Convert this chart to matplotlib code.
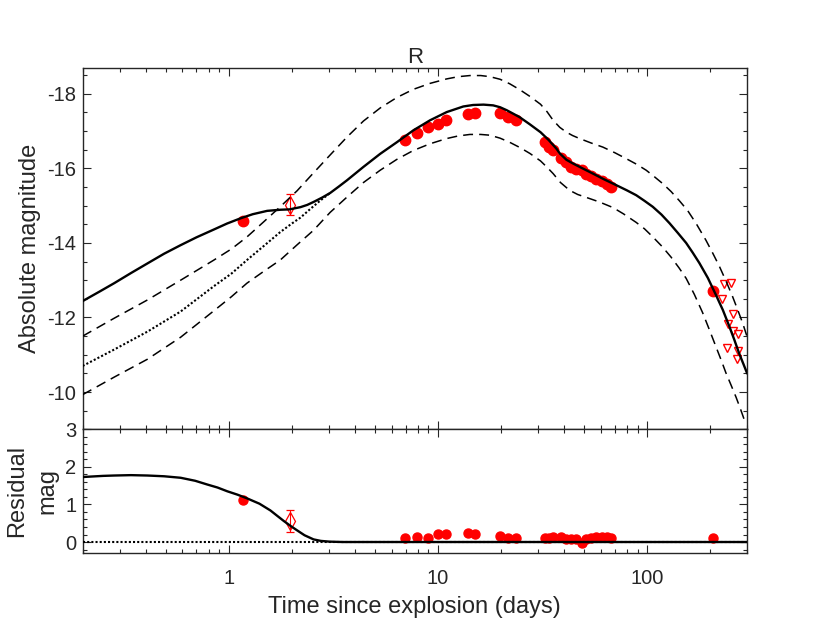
import numpy as np
import matplotlib
matplotlib.use("Agg")
import matplotlib.pyplot as plt
from matplotlib.ticker import MultipleLocator, LogLocator, NullFormatter

# -------- data --------

# detections, R band
t_det = [1.17, 6.96, 7.97, 8.99, 9.97, 10.9, 13.95, 15.0, 19.8, 21.6, 23.7,
         32.4, 33.8, 35.5, 38.7, 40.7, 43.0, 45.5, 48.9, 51.2, 54.1, 57.2,
         60.6, 64.1, 67.1, 207.0]
mag_det = [-14.58, -16.77, -16.95, -17.12, -17.18, -17.29, -17.46, -17.48,
           -17.48, -17.39, -17.29, -16.70, -16.58, -16.48, -16.28, -16.17,
           -16.05, -15.99, -15.95, -15.86, -15.79, -15.72, -15.66, -15.59,
           -15.50, -12.71]
res_det = [1.11, 0.11, 0.14, 0.11, 0.22, 0.22, 0.23, 0.22, 0.15, 0.11, 0.11,
           0.11, 0.11, 0.13, 0.13, 0.09, 0.08, 0.07, -0.02, 0.07, 0.11, 0.13,
           0.14, 0.13, 0.11, 0.11]

# the single open-diamond point with error bar
t_dia = [1.97]
mag_dia = [-15.03]
res_dia = [0.55]
err_dia = [0.29]

# upper limits (open triangles)
t_lim = [233.6, 251.5, 226.8, 256.0, 242.3, 256.0, 270.4, 239.7, 270.4, 267.5]
mag_lim = [-12.89, -12.93, -12.50, -12.09, -11.83, -11.65, -11.55, -11.18,
           -11.09, -10.88]

# full model (solid)
t_model = [0.2, 0.24, 0.283, 0.34, 0.408, 0.49, 0.588, 0.70, 0.848, 0.98,
           1.137, 1.3, 1.524, 1.764, 1.95, 2.2, 2.37, 2.543, 2.8, 3.05, 3.35,
           3.67, 4.4, 5.29, 6.35, 7.62, 9.16, 11.0, 13.2, 14.7, 16.5, 18.35,
           19.8, 21.3, 23.0, 24.6, 27.5, 30.9, 33.8, 36.8, 38.2, 41.1, 44.2,
           47.5, 55.0, 62.0, 71.1, 80.0, 88.6, 97.0, 106.3, 117.0, 127.8,
           140.0, 153.5, 165.0, 177.6, 195.0, 213.3, 230.0, 247.0, 261.0,
           275.0, 288.0, 300.0]
mag_model = [-12.44, -12.69, -12.92, -13.19, -13.45, -13.71, -13.94, -14.15,
             -14.36, -14.52, -14.66, -14.77, -14.86, -14.89, -14.90, -14.96,
             -15.02, -15.10, -15.22, -15.34, -15.51, -15.68, -16.04, -16.39,
             -16.70, -17.02, -17.29, -17.51, -17.66, -17.70, -17.71, -17.69,
             -17.64, -17.56, -17.46, -17.37, -17.18, -16.97, -16.76, -16.53,
             -16.40, -16.23, -16.13, -16.04, -15.86, -15.71, -15.55, -15.41,
             -15.28, -15.13, -14.97, -14.76, -14.53, -14.27, -14.00, -13.74,
             -13.46, -13.06, -12.60, -12.20, -11.76, -11.40, -11.04, -10.76,
             -10.51]

# base model without the early excess (dotted)
t_base = [0.2, 0.283, 0.408, 0.588, 0.848, 1.03, 1.22, 1.47, 1.76, 2.0, 2.2,
          2.45, 2.74, 3.05]
mag_base = [-10.70, -11.14, -11.62, -12.16, -12.84, -13.18, -13.54, -13.92,
            -14.29, -14.52, -14.68, -14.91, -15.14, -15.34]

# upper / lower envelopes (dashed)
t_up = [0.2, 0.283, 0.408, 0.588, 0.848, 1.03, 1.22, 1.47, 1.76, 2.12, 2.54,
        3.05, 3.67, 4.4, 5.29, 6.35, 7.62, 9.16, 11.0, 12.5, 14.2, 16.0, 17.7,
        19.8, 22.0, 24.6, 27.5, 30.9, 33.2, 35.5, 38.2, 41.1, 44.0, 47.5,
        54.0, 61.4, 70.0, 79.4, 89.0, 98.9, 108.0, 118.7, 130.0, 142.6,
        156.0, 171.0, 191.0, 206.0, 221.0, 238.0, 256.0, 271.0, 286.0, 300.0]
mag_up = [-11.50, -11.98, -12.47, -13.00, -13.54, -13.84, -14.16, -14.57,
          -14.97, -15.40, -15.88, -16.36, -16.84, -17.27, -17.62, -17.90,
          -18.12, -18.28, -18.40, -18.46, -18.49, -18.49, -18.46, -18.39,
          -18.27, -18.11, -17.93, -17.72, -17.52, -17.29, -17.10, -16.97,
          -16.88, -16.80, -16.68, -16.57, -16.42, -16.26, -16.11, -15.95,
          -15.78, -15.59, -15.38, -15.13, -14.87, -14.53, -14.07, -13.72,
          -13.38, -12.98, -12.56, -12.20, -11.85, -11.49]
t_low = [0.2, 0.283, 0.408, 0.588, 0.848, 1.03, 1.22, 1.47, 1.76, 2.12, 2.54,
         3.05, 3.67, 4.4, 5.29, 6.35, 7.62, 9.16, 11.0, 12.5, 14.2, 16.0,
         17.7, 19.8, 22.0, 24.6, 27.5, 30.9, 33.2, 35.5, 38.5, 42.6, 46.5,
         51.2, 59.0, 68.5, 77.0, 88.6, 97.0, 106.0, 118.0, 130.0, 142.0,
         153.5, 168.0, 184.0, 198.0, 213.0, 226.0, 238.0, 252.0, 266.0,
         279.0, 291.0]
mag_low = [-9.93, -10.40, -10.88, -11.47, -12.18, -12.56, -12.92, -13.24,
           -13.54, -13.95, -14.34, -14.82, -15.23, -15.62, -15.95, -16.24,
           -16.48, -16.66, -16.80, -16.87, -16.91, -16.91, -16.89, -16.81,
           -16.70, -16.56, -16.40, -16.20, -16.03, -15.86, -15.62, -15.41,
           -15.30, -15.22, -15.10, -14.95, -14.78, -14.55, -14.38, -14.17,
           -13.90, -13.62, -13.33, -13.05, -12.62, -12.13, -11.68, -11.22,
           -10.85, -10.51, -10.18, -9.86, -9.55, -9.26]

# residual of the full model w.r.t. the base model
t_res = [0.2, 0.25, 0.283, 0.34, 0.408, 0.49, 0.588, 0.69, 0.789, 0.883,
         0.983, 1.1, 1.224, 1.4, 1.58, 1.7, 1.83, 1.97, 2.12, 2.3, 2.54, 2.75,
         3.03, 3.5, 300.0]
res_model = [1.73, 1.76, 1.77, 1.78, 1.77, 1.75, 1.71, 1.63, 1.53, 1.45,
             1.35, 1.26, 1.16, 1.02, 0.84, 0.70, 0.56, 0.43, 0.31, 0.18,
             0.07, 0.03, 0.01, 0.0, 0.0]
t_zero = [0.2, 300.0]
res_zero = [0.0, 0.0]

x_ticks = [1, 10, 100]
x_ticklabels = ["1", "10", "100"]
y_ticks_top = [-18, -16, -14, -12, -10]
y_ticks_bot = [0, 1, 2, 3]

# -------- plotting --------

ink = "#262626"
red = "#ff0000"
plt.rcParams["font.family"] = ["Liberation Sans", "DejaVu Sans"]
plt.rcParams["axes.unicode_minus"] = False
plt.rcParams["text.color"] = ink
plt.rcParams["axes.labelcolor"] = ink
plt.rcParams["xtick.color"] = ink
plt.rcParams["ytick.color"] = ink
plt.rcParams["axes.edgecolor"] = ink

fig = plt.figure(figsize=(8.3, 6.23), dpi=100)
ax = fig.add_axes([0.0996, 0.3109, 0.8004, 0.5804])
axr = fig.add_axes([0.0996, 0.1119, 0.8004, 0.1990], sharex=ax)

dash = (0, (6.5, 4.0))
dots = (0, (1.0, 1.0))

# top panel
ax.plot(t_det, mag_det, "o", ms=7.5, color=red, mec=red, zorder=2)
ax.errorbar(t_dia, mag_dia, yerr=err_dia, fmt="d", ms=9, mfc="none", mec=red,
            mew=0.9, ecolor=red, elinewidth=0.8, capsize=3, capthick=0.8, zorder=2)
ax.plot(t_lim, mag_lim, "v", ms=6, mfc="none", mec=red, mew=1.0, zorder=2)
ax.plot(t_up, mag_up, color="k", lw=1.1, ls=dash, zorder=3)
ax.plot(t_low, mag_low, color="k", lw=1.1, ls=dash, zorder=3)
ax.plot(t_base, mag_base, color="k", lw=1.5, ls=dots, zorder=3)
ax.plot(t_model, mag_model, color="k", lw=1.7, zorder=4)

ax.set_xscale("log")
ax.set_xlim(0.2, 300)
ax.set_ylim(-9.0, -18.7)
ax.set_yticks(y_ticks_top)
ax.yaxis.set_minor_locator(MultipleLocator(0.5))
ax.set_ylabel("Absolute magnitude", fontsize=17)
ax.yaxis.set_label_coords(-0.063, 0.5)
ax.set_title("R", fontsize=16, pad=2.5)
ax.tick_params(labelbottom=False)

# bottom panel
axr.plot(t_det, res_det, "o", ms=6.5, color=red, mec=red, zorder=2)
axr.errorbar(t_dia, res_dia, yerr=err_dia, fmt="d", ms=9, mfc="none", mec=red,
             mew=0.9, ecolor=red, elinewidth=0.8, capsize=3, capthick=0.8, zorder=2)
axr.plot(t_zero, res_zero, color="k", lw=1.5, ls=dots, zorder=3)
axr.plot(t_res, res_model, color="k", lw=1.7, zorder=4)

axr.set_ylim(-0.3, 3)
axr.set_yticks(y_ticks_bot)
axr.yaxis.set_minor_locator(MultipleLocator(0.2))
axr.set_xticks(x_ticks)
axr.set_xticklabels(x_ticklabels)
axr.xaxis.set_minor_locator(LogLocator(base=10, subs=np.arange(2, 10)))
axr.xaxis.set_minor_formatter(NullFormatter())
axr.set_ylabel("Residual\nmag", fontsize=17, linespacing=1.45)
axr.yaxis.set_label_coords(-0.037, 0.5)
axr.set_xlabel("Time since explosion (days)", fontsize=17, labelpad=6)

for a in (ax, axr):
    a.tick_params(which="both", direction="in", top=True, right=True,
                  labelsize=14.5, width=0.8)
    a.tick_params(which="major", length=5.5)
    a.tick_params(which="minor", length=3)
    a.tick_params(axis="y", pad=4.5)
    for s in a.spines.values():
        s.set_linewidth(1.0)
axr.tick_params(axis="x", pad=11)

fig.savefig("out.png", dpi=100)
